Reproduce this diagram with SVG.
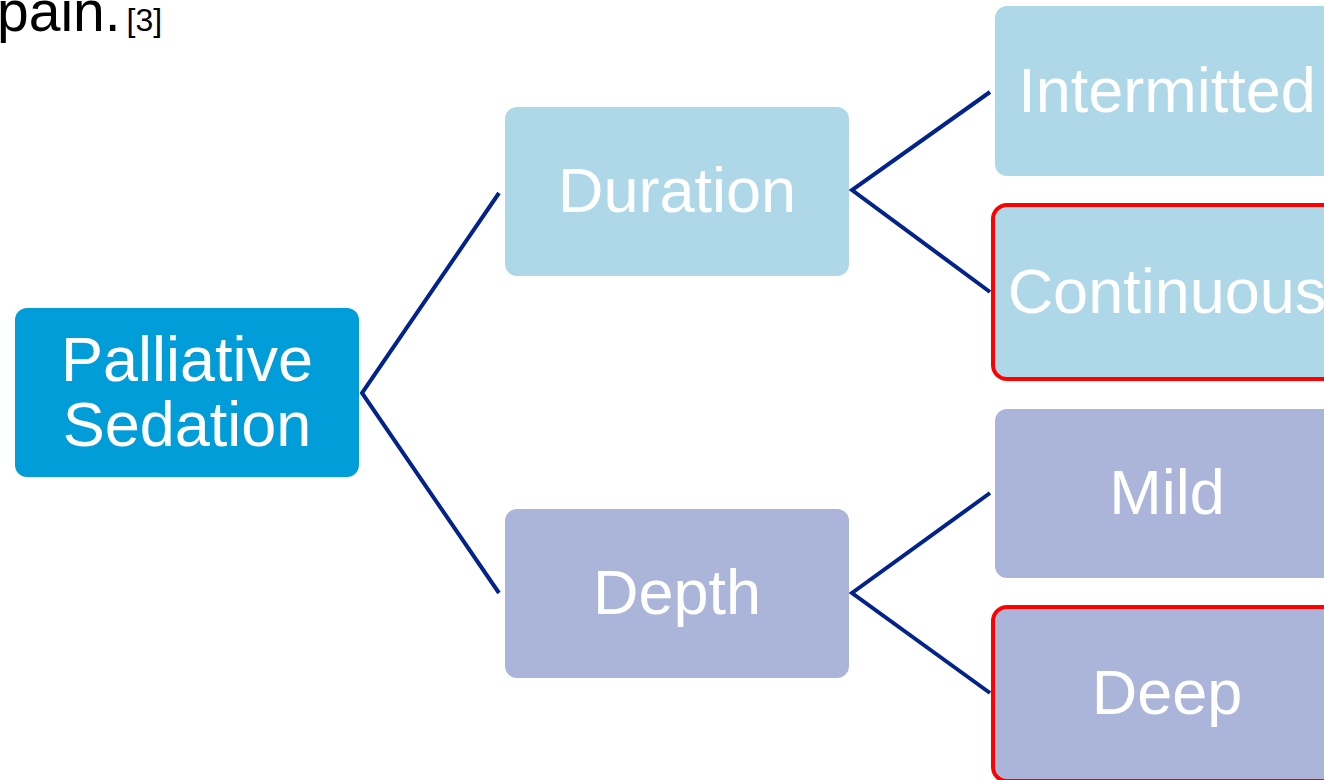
<svg xmlns="http://www.w3.org/2000/svg" width="1324" height="780" viewBox="0 0 1324 780">
<style>
.t{font-family:"Liberation Sans",Arial,sans-serif;font-size:63px;fill:#ffffff;text-anchor:middle}
.c{stroke:#03238C;stroke-width:4;fill:none}
.hl{stroke:#FF0000;stroke-width:4}
.b1{fill:#AED8E8}
.b2{fill:#AAB5D9}
</style>
<rect width="1324" height="780" fill="#ffffff"/>
<text x="-3" y="31" font-family="'Liberation Sans',Arial,sans-serif" font-size="57" fill="#000">pain.<tspan dx="6" font-size="32">[3]</tspan></text>
<g id="connectors">
<polyline class="c" points="499,193 362,393 499,593"/>
<polyline class="c" points="990,92 852,190 990,292"/>
<polyline class="c" points="990,493 852,593 990,693"/>
</g>
<g id="palliative">
<rect x="15" y="308" width="344" height="169" rx="12" fill="#009DD9"/>
<text class="t" x="187" y="381">Palliative</text>
<text class="t" x="187" y="446">Sedation</text>
</g>
<g id="duration">
<rect class="b1" x="505" y="107" width="344" height="169" rx="12"/>
<text class="t" x="677" y="212">Duration</text>
</g>
<g id="depth">
<rect class="b2" x="505" y="509" width="344" height="169" rx="12"/>
<text class="t" x="677" y="614">Depth</text>
</g>
<g id="intermitted">
<rect class="b1" x="995" y="6" width="344" height="170" rx="12"/>
<text class="t" x="1167" y="112">Intermitted</text>
</g>
<g id="continuous">
<rect class="b1 hl" x="993" y="205" width="348" height="174" rx="14"/>
<text class="t" x="1167" y="313">Continuous</text>
</g>
<g id="mild">
<rect class="b2" x="995" y="409" width="344" height="169" rx="12"/>
<text class="t" x="1167" y="514">Mild</text>
</g>
<g id="deep">
<rect class="b2 hl" x="993" y="607" width="348" height="174" rx="14"/>
<text class="t" x="1167" y="714">Deep</text>
</g>
</svg>
